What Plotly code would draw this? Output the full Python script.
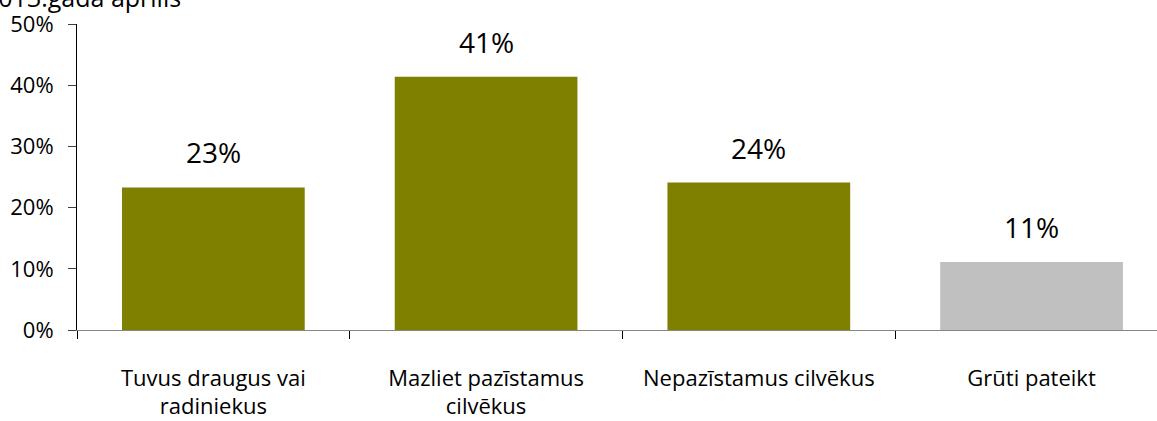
import plotly.graph_objects as go

categories = ["Tuvus draugus vai<br>radiniekus", "Mazliet pazīstamus<br>cilvēkus",
              "Nepazīstamus cilvēkus", "Grūti pateikt"]
values = [23.3, 41.4, 24.1, 11.1]
labels = ["23%", "41%", "24%", "11%"]
colors = ["#808000", "#808000", "#808000", "#C0C0C0"]
y_ticks = [0, 10, 20, 30, 40, 50]
title_text = "2013.gada aprīlis"

FONT = "Open Sans"

fig = go.Figure()
fig.add_trace(go.Bar(x=categories, y=values, marker=dict(color=colors, line=dict(width=0)),
                     hoverinfo="skip"))

for c, v, t in zip(categories, values, labels):
    fig.add_annotation(x=c, y=v, text=t, showarrow=False, yanchor="bottom",
                       yshift=14, font=dict(family=FONT, size=28, color="#000000"))

fig.add_annotation(xref="paper", yref="paper", x=0.098, y=1.0, xanchor="right",
                   yanchor="bottom", yshift=8, text=title_text, showarrow=False,
                   font=dict(family=FONT, size=25, color="#000000"))

fig.update_layout(
    template="none",
    width=1157, height=421,
    margin=dict(l=77, r=0, t=24, b=91, autoexpand=False),
    paper_bgcolor="white", plot_bgcolor="white",
    bargap=0.33, showlegend=False,
    font=dict(family=FONT, size=22, color="#000000"),
)
fig.update_xaxes(type="category", range=[-0.5, 3.46], tickson="boundaries",
                 ticks="outside", ticklen=8, tickcolor="#000000", tickwidth=1,
                 showline=True, linecolor="#868686", linewidth=1.3,
                 showgrid=False, ticklabelstandoff=28, automargin=False,
                 tickfont=dict(family=FONT, size=22, color="#000000"))
fig.update_yaxes(range=[0, 50], tickvals=y_ticks, ticktext=[f"{v}%" for v in y_ticks],
                 ticks="outside", ticklen=8, tickcolor="#404040", tickwidth=1,
                 showline=True, linecolor="#000000", linewidth=1,
                 showgrid=False, zeroline=False, ticklabelstandoff=10, automargin=False,
                 ticklabeloverflow="allow",
                 tickfont=dict(family=FONT, size=22, color="#000000"))

fig.write_html("out.html", config={"displayModeBar": False},
               post_script="document.body.style.margin='0';")
